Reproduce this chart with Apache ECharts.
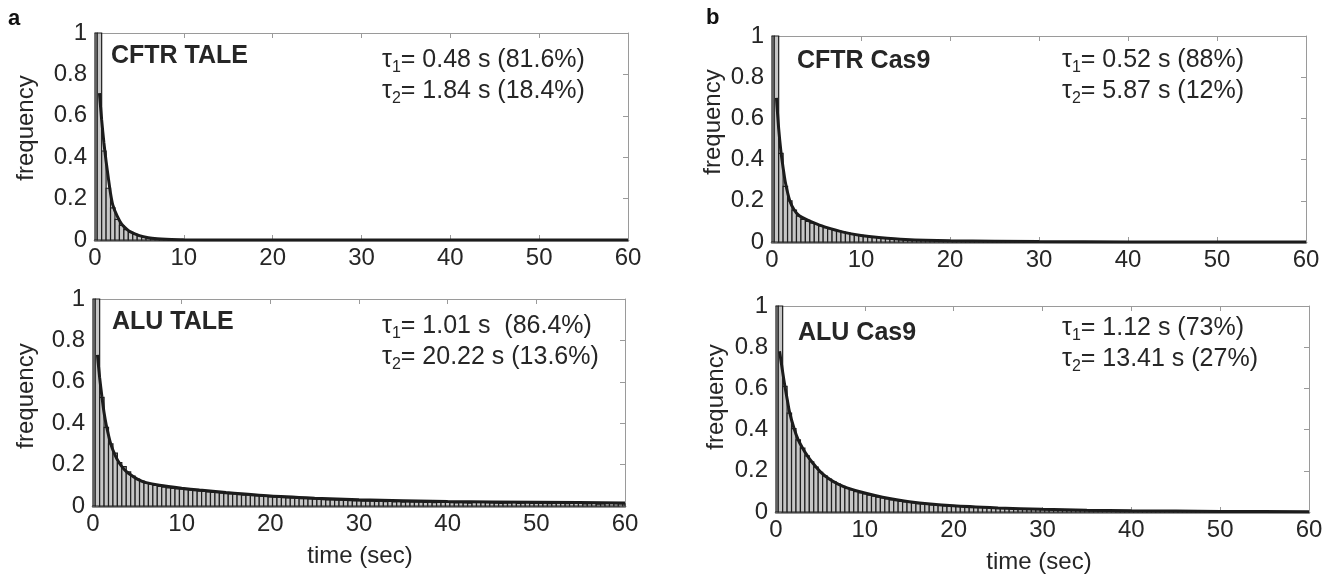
<!DOCTYPE html>
<html>
<head>
<meta charset="utf-8">
<script src="https://cdn.jsdelivr.net/npm/echarts@6/dist/echarts.min.js"></script>
<style>
  html, body { margin: 0; padding: 0; background: #fff; }
  #chart { width: 1340px; height: 578px; }
</style>
</head>
<body>
<div id="chart"></div>
<script>
// === DATA ===
// histogram bins are 0.5 s wide, centred on 0, 0.5, 1.0 ... 60
const BIN = 0.5;

const cftrTaleFreq = [
  1, 1, 0.43, 0.25, 0.155, 0.10, 0.07, 0.05, 0.037, 0.027,
  0.02, 0.014, 0.01, 0.007, 0.005, 0.004, 0.003, 0.002, 0.002, 0.001,
  0.001, 0, 0, 0, 0, 0, 0, 0, 0, 0,
  0, 0, 0, 0, 0, 0, 0, 0, 0, 0,
  0, 0, 0, 0, 0, 0, 0, 0, 0, 0,
  0, 0, 0, 0, 0, 0, 0, 0, 0, 0,
  0, 0, 0, 0, 0, 0, 0, 0, 0, 0,
  0, 0, 0, 0, 0, 0, 0, 0, 0, 0,
  0, 0, 0, 0, 0, 0, 0, 0, 0, 0,
  0, 0, 0, 0, 0, 0, 0, 0, 0, 0,
  0, 0, 0, 0, 0, 0, 0, 0, 0, 0,
  0, 0, 0, 0, 0, 0, 0, 0, 0, 0,
  0
];

const aluTaleFreq = [
  1, 1, 0.525, 0.38, 0.30, 0.255, 0.21, 0.19, 0.165, 0.145,
  0.13, 0.12, 0.11, 0.105, 0.099, 0.095, 0.091, 0.088, 0.085, 0.083,
  0.081, 0.079, 0.076, 0.074, 0.072, 0.070, 0.068, 0.066, 0.064, 0.062,
  0.060, 0.058, 0.057, 0.055, 0.053, 0.052, 0.050, 0.049, 0.047, 0.046,
  0.044, 0.043, 0.042, 0.040, 0.039, 0.038, 0.037, 0.036, 0.035, 0.034,
  0.033, 0.032, 0.031, 0.030, 0.029, 0.028, 0.028, 0.027, 0.026, 0.025,
  0.025, 0.024, 0.024, 0.023, 0.022, 0.024, 0.021, 0.022, 0.020, 0.021,
  0.019, 0.020, 0.018, 0.019, 0.018, 0.017, 0.018, 0.016, 0.017, 0.018,
  0.021, 0.016, 0.015, 0.016, 0.015, 0.014, 0.019, 0.020, 0.019, 0.016,
  0.015, 0.014, 0.013, 0.014, 0.015, 0.017, 0.013, 0.014, 0.016, 0.012,
  0.013, 0.012, 0.014, 0.011, 0.012, 0.015, 0.012, 0.011, 0.013, 0.014,
  0.012, 0.010, 0.011, 0.012, 0.009, 0.010, 0.014, 0.013, 0.011, 0.010,
  0.010
];

const cftrCas9Freq = [
  1, 1, 0.43, 0.27, 0.20, 0.155, 0.125, 0.11, 0.10, 0.092,
  0.085, 0.078, 0.070, 0.064, 0.058, 0.053, 0.048, 0.044, 0.039, 0.036,
  0.032, 0.029, 0.026, 0.024, 0.021, 0.019, 0.017, 0.016, 0.014, 0.013,
  0.012, 0.011, 0.010, 0.009, 0.009, 0.008, 0.010, 0.007, 0.006, 0.006,
  0.006, 0.005, 0.007, 0.004, 0.005, 0.004, 0.003, 0.004, 0.003, 0.003,
  0.002, 0.003, 0.002, 0.002, 0.003, 0.002, 0.001, 0.002, 0.001, 0.002,
  0.001, 0.001, 0.002, 0.001, 0.001, 0.001, 0.001, 0.002, 0.001, 0.001,
  0.001, 0.001, 0, 0.001, 0.001, 0, 0.001, 0, 0.001, 0,
  0, 0.001, 0, 0, 0.001, 0, 0, 0, 0.001, 0,
  0, 0, 0, 0, 0, 0, 0, 0, 0, 0,
  0, 0, 0, 0, 0, 0, 0, 0, 0, 0,
  0, 0, 0, 0, 0, 0, 0, 0, 0, 0,
  0
];

const aluCas9Freq = [
  1, 1, 0.61, 0.48, 0.405, 0.35, 0.31, 0.272, 0.244, 0.218,
  0.193, 0.175, 0.16, 0.147, 0.135, 0.125, 0.115, 0.107, 0.099, 0.093,
  0.088, 0.082, 0.077, 0.072, 0.068, 0.063, 0.059, 0.055, 0.052, 0.049,
  0.046, 0.044, 0.041, 0.039, 0.037, 0.035, 0.033, 0.032, 0.030, 0.029,
  0.028, 0.027, 0.026, 0.025, 0.024, 0.023, 0.022, 0.021, 0.020, 0.019,
  0.019, 0.018, 0.017, 0.016, 0.016, 0.015, 0.014, 0.014, 0.013, 0.013,
  0.012, 0.012, 0.011, 0.011, 0.010, 0.010, 0.009, 0.009, 0.009, 0.008,
  0.008, 0.007, 0.007, 0.007, 0.006, 0.006, 0.006, 0.005, 0.005, 0.005,
  0.005, 0.004, 0.004, 0.004, 0.004, 0.003, 0.003, 0.003, 0.003, 0.003,
  0.002, 0.002, 0.003, 0.002, 0.002, 0.002, 0.002, 0.001, 0.002, 0.001,
  0.001, 0.002, 0.001, 0.001, 0.001, 0.001, 0.001, 0.001, 0.001, 0.001,
  0.001, 0.001, 0, 0.001, 0.001, 0, 0.001, 0, 0.001, 0,
  0
];

// fitted double-exponential curves
const cftrTaleFitT = [0.5, 0.75, 1, 1.25, 1.5, 1.75, 2, 2.5, 3, 3.5, 4, 5, 6, 7, 8, 10, 15, 20, 30, 40, 50, 60];
const cftrTaleFitV = [0.71, 0.58, 0.47, 0.38, 0.30, 0.225, 0.17, 0.115, 0.077, 0.055, 0.039, 0.021, 0.011, 0.006, 0.0035, 0.001, 0, 0, 0, 0, 0, 0];

const aluTaleFitT = [0.5, 0.75, 1, 1.25, 1.5, 2, 2.5, 3, 3.5, 4, 5, 6, 7.5, 10, 12, 15, 20, 25, 30, 40, 50, 60];
const aluTaleFitV = [0.73, 0.62, 0.53, 0.45, 0.39, 0.30, 0.245, 0.205, 0.178, 0.158, 0.13, 0.113, 0.10, 0.086, 0.077, 0.065, 0.048, 0.038, 0.030, 0.022, 0.018, 0.015];

const cftrCas9FitT = [0.5, 0.75, 1, 1.25, 1.5, 2, 2.5, 3, 4, 5, 6, 8, 10, 12, 15, 20, 30, 40, 50, 60];
const cftrCas9FitV = [0.70, 0.55, 0.44, 0.36, 0.29, 0.20, 0.155, 0.13, 0.106, 0.088, 0.072, 0.048, 0.032, 0.022, 0.012, 0.006, 0.002, 0.0005, 0, 0];

const aluCas9FitT = [0.4, 0.75, 1, 1.25, 1.5, 2, 2.5, 3, 3.5, 4, 5, 6, 7, 8, 10, 12, 15, 20, 25, 30, 35, 40, 50, 60];
const aluCas9FitV = [0.78, 0.68, 0.61, 0.55, 0.49, 0.41, 0.35, 0.31, 0.275, 0.245, 0.195, 0.16, 0.135, 0.117, 0.092, 0.072, 0.05, 0.03, 0.02, 0.013, 0.009, 0.006, 0.003, 0.0015];

const xTicks = { min: 0, max: 60, interval: 10 };
const yTicks = { min: 0, max: 1, interval: 0.2 };

// === LAYOUT ===
const FONT = '"Liberation Sans", Arial, Helvetica, sans-serif';
const TXT = '#262626';

const panels = [
  { name: 'CFTR TALE', freq: cftrTaleFreq, fitT: cftrTaleFitT, fitV: cftrTaleFitV,
    grid: { left: 95, top: 33, width: 533, height: 207 },
    title: [111, 56], ylab: [26, 128], tau: [382, 45],
    tauText: ['0.48 s (81.6%)', '1.84 s (18.4%)'] },
  { name: 'ALU TALE', freq: aluTaleFreq, fitT: aluTaleFitT, fitV: aluTaleFitV,
    grid: { left: 93, top: 299, width: 532, height: 207 },
    title: [112, 322], ylab: [26, 396], tau: [382, 311],
    tauText: ['1.01 s  (86.4%)', '20.22 s (13.6%)'] },
  { name: 'CFTR Cas9', freq: cftrCas9Freq, fitT: cftrCas9FitT, fitV: cftrCas9FitV,
    grid: { left: 772, top: 36, width: 534, height: 206 },
    title: [797, 61], ylab: [713, 122], tau: [1062, 45],
    tauText: ['0.52 s (88%)', '5.87 s (12%)'] },
  { name: 'ALU Cas9', freq: aluCas9Freq, fitT: aluCas9FitT, fitV: aluCas9FitV,
    grid: { left: 776, top: 306, width: 533, height: 206 },
    title: [798, 333], ylab: [716, 397], tau: [1062, 313],
    tauText: ['1.12 s (73%)', '13.41 s (27%)'] }
];

// === HISTOGRAM BAR ===
function renderBar(params, api) {
  const x = api.value(0);
  const y = api.value(1);
  if (!(y > 0)) return null;
  const p0 = api.coord([x - BIN / 2, y]);
  const p1 = api.coord([x + BIN / 2, 0]);
  const cs = params.coordSys;
  const rect = echarts.graphic.clipRectByRect(
    { x: p0[0], y: p0[1], width: p1[0] - p0[0], height: p1[1] - p0[1] },
    { x: cs.x, y: cs.y, width: cs.width, height: cs.height + 1 }
  );
  if (!rect) return null;
  return {
    type: 'rect',
    shape: rect,
    style: { fill: '#c6c6c6', stroke: '#1f1f1f', lineWidth: 1.2 }
  };
}

// === OPTION ===
const grids = [], xAxes = [], yAxes = [], series = [], graphics = [];

panels.forEach((p, g) => {
  grids.push(Object.assign({ containLabel: false }, p.grid));

  // bottom x axis with labels
  xAxes.push(Object.assign({
    type: 'value', gridIndex: g, position: 'bottom',
    axisLine: { show: true, onZero: false, lineStyle: { color: '#6f6f6f', width: 2.5 } },
    axisTick: { show: true, inside: true, length: 5, lineStyle: { color: '#9a9a9a' } },
    axisLabel: { show: true, margin: 6, fontSize: 24, color: TXT, fontFamily: FONT },
    splitLine: { show: false }
  }, xTicks));
  // top mirror
  xAxes.push(Object.assign({
    type: 'value', gridIndex: g, position: 'top',
    axisLine: { show: true, onZero: false, lineStyle: { color: '#9a9a9a', width: 1 } },
    axisTick: { show: true, inside: true, length: 5, lineStyle: { color: '#9a9a9a' } },
    axisLabel: { show: false },
    splitLine: { show: false }
  }, xTicks));

  // left y axis with labels
  yAxes.push(Object.assign({
    type: 'value', gridIndex: g, position: 'left',
    axisLine: { show: true, onZero: false, lineStyle: { color: '#8a8a8a', width: 1 } },
    axisTick: { show: true, inside: true, length: 5, lineStyle: { color: '#9a9a9a' } },
    axisLabel: { show: true, margin: 8, fontSize: 24, color: TXT, fontFamily: FONT },
    splitLine: { show: false }
  }, yTicks));
  // right mirror
  yAxes.push(Object.assign({
    type: 'value', gridIndex: g, position: 'right',
    axisLine: { show: true, onZero: false, lineStyle: { color: '#9a9a9a', width: 1 } },
    axisTick: { show: true, inside: true, length: 5, lineStyle: { color: '#9a9a9a' } },
    axisLabel: { show: false },
    splitLine: { show: false }
  }, yTicks));

  series.push({
    type: 'custom',
    xAxisIndex: g * 2, yAxisIndex: g * 2,
    renderItem: renderBar,
    data: p.freq.map((v, i) => [i * BIN, v]),
    z: 2, silent: true
  });
  series.push({
    type: 'line',
    xAxisIndex: g * 2, yAxisIndex: g * 2,
    data: p.fitT.map((t, i) => [t, p.fitV[i]]),
    smooth: 0.2, showSymbol: false, clip: true,
    lineStyle: { color: '#1c1c1c', width: 3 },
    z: 5, silent: true
  });

  // panel title
  graphics.push({
    type: 'text', x: p.title[0], y: p.title[1], z: 10,
    style: { text: p.name, font: 'bold 25px ' + FONT, fill: TXT,
      align: 'left', verticalAlign: 'middle', textAlign: 'left', textVerticalAlign: 'middle' }
  });
  // y axis name
  graphics.push({
    type: 'text', x: p.ylab[0], y: p.ylab[1], rotation: Math.PI / 2, z: 10,
    style: { text: 'frequency', font: '24px ' + FONT, fill: TXT,
      align: 'center', verticalAlign: 'middle', textAlign: 'center', textVerticalAlign: 'middle' }
  });
  // tau annotations
  const rich = {
    t: { fontSize: 25, fontFamily: FONT, fill: TXT, color: TXT, lineHeight: 31 },
    s: { fontSize: 16, fontFamily: FONT, fill: TXT, color: TXT, lineHeight: 20, verticalAlign: 'bottom' }
  };
  graphics.push({
    type: 'text', x: p.tau[0], y: p.tau[1], z: 10,
    style: {
      text: '{t|τ}{s|1}{t|= ' + p.tauText[0] + '}\n{t|τ}{s|2}{t|= ' + p.tauText[1] + '}',
      rich: rich, align: 'left', verticalAlign: 'top', textAlign: 'left', textVerticalAlign: 'top'
    }
  });
});

// panel letters and x axis names
graphics.push(
  { type: 'text', x: 8, y: 19, style: { text: 'a', font: 'bold 22px ' + FONT, fill: '#111',
      align: 'left', verticalAlign: 'middle', textAlign: 'left', textVerticalAlign: 'middle' } },
  { type: 'text', x: 706, y: 18, style: { text: 'b', font: 'bold 22px ' + FONT, fill: '#111',
      align: 'left', verticalAlign: 'middle', textAlign: 'left', textVerticalAlign: 'middle' } },
  { type: 'text', x: 360, y: 556, style: { text: 'time (sec)', font: '24px ' + FONT, fill: TXT,
      align: 'center', verticalAlign: 'middle', textAlign: 'center', textVerticalAlign: 'middle' } },
  { type: 'text', x: 1039, y: 562, style: { text: 'time (sec)', font: '24px ' + FONT, fill: TXT,
      align: 'center', verticalAlign: 'middle', textAlign: 'center', textVerticalAlign: 'middle' } }
);

const chart = echarts.init(document.getElementById('chart'), null, { renderer: 'canvas' });
chart.setOption({
  animation: false,
  backgroundColor: '#ffffff',
  grid: grids,
  xAxis: xAxes,
  yAxis: yAxes,
  series: series,
  graphic: graphics
});
</script>
</body>
</html>
